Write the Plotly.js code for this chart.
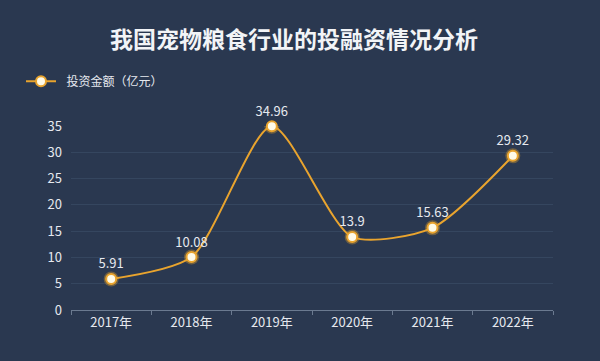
<!DOCTYPE html>
<html><head><meta charset="utf-8">
<script src="https://cdn.plot.ly/plotly-3.0.1.min.js"></script>
<style>html,body{margin:0;padding:0;background:#2a3850;}#c{width:600px;height:361px;}</style>
</head><body><div id="c"></div>
<script>
const years = ["2017年","2018年","2019年","2020年","2021年","2022年"];
const investment = [5.91, 10.08, 34.96, 13.9, 15.63, 29.32];
const seriesName = "投资金额（亿元）";
const chartTitle = "我国宠物粮食行业的投融资情况分析";

const font = "'Noto Sans CJK SC', 'Noto Sans', sans-serif";
const data = [
  { // glow
    x: years, y: investment, type: "scatter", mode: "markers",
    marker: {size: 15, color: "rgba(240,170,40,0.35)"},
    hoverinfo: "skip", showlegend: false
  },
  {
    x: years, y: investment, type: "scatter", mode: "lines+markers+text",
    name: "\u00a0\u00a0" + seriesName,
    line: {shape: "spline", smoothing: 0.7, color: "#e9a42e", width: 2},
    marker: {size: 10, color: "#fffbe8", line: {color: "#e9a42e", width: 2}},
    text: investment.map(String), textposition: "top center",
    textfont: {family: font, size: 13, color: "#e6e9ef"},
    cliponaxis: false
  }
];
const layout = {
  width: 600, height: 361,
  paper_bgcolor: "#2a3850", plot_bgcolor: "#2a3850",
  margin: {l: 71, r: 47, t: 126, b: 51},
  title: {text: chartTitle, x: 0.49, xanchor: "center", y: 0.89, yanchor: "middle",
          font: {family: font, size: 23, color: "#f2f4f7", weight: "bold"}},
  font: {family: font, color: "#e6e9ef"},
  xaxis: {
    type: "category", tickson: "boundaries", ticks: "outside", ticklen: 4, tickcolor: "#6b7a90",
    showline: true, linecolor: "#6b7a90", linewidth: 1, showgrid: false, zeroline: false,
    tickfont: {family: font, size: 13, color: "#e6e9ef"}, range: [-0.5, 5.5]
  },
  yaxis: {
    range: [0, 35], dtick: 5, tick0: 0, showgrid: true, gridcolor: "#35465f", gridwidth: 1,
    zeroline: false, showline: false, ticks: "", ticklabelstandoff: 8,
    tickfont: {family: font, size: 13, color: "#e6e9ef"}
  },
  showlegend: true,
  legend: {x: 0.035, y: 0.775, xanchor: "left", yanchor: "middle", xref: "container", yref: "container",
           orientation: "h", bgcolor: "rgba(0,0,0,0)",
           font: {family: font, size: 12, color: "#e6e9ef"}, itemwidth: 30}
};
Plotly.newPlot("c", data, layout, {displayModeBar: false, staticPlot: true});
</script></body></html>
